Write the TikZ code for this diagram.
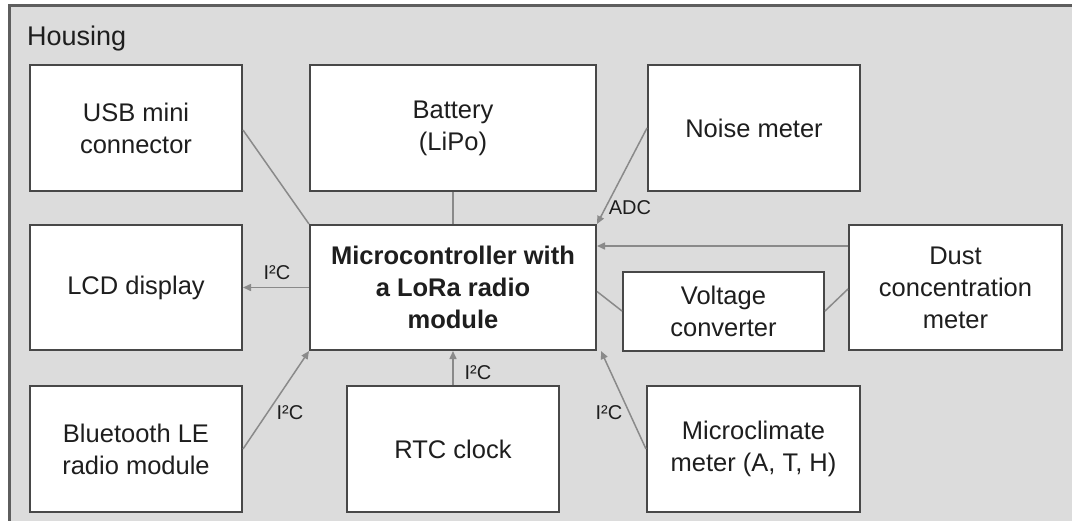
\documentclass[tikz,border=0pt]{standalone}
\usepackage{fontspec}
\setmainfont{Liberation Sans}
\usetikzlibrary{arrows.meta}
\definecolor{housebg}{HTML}{DCDCDC}
\definecolor{houseline}{HTML}{5E5E5E}
\definecolor{boxline}{HTML}{484848}
\definecolor{conn}{HTML}{8A8A8A}
\definecolor{txt}{HTML}{1E1E1E}
\tikzset{
  blockbox/.style={draw=boxline, line width=2pt, fill=white, align=center, text=txt,
    font=\fontsize{25.5}{32}\selectfont, inner sep=0pt},
  link/.style={draw=conn, line width=1.5pt},
  arr/.style={link, -{Triangle[length=8pt,width=7pt]}},
  lbl/.style={text=txt, font=\fontsize{20}{24}\selectfont, inner sep=0pt},
}
\begin{document}
\begin{tikzpicture}[x=1pt, y=-1pt]
\useasboundingbox (0,0) rectangle (1072,520);
\fill[white] (0,0) rectangle (1072,520);
\begin{scope}
\clip (0,0) rectangle (1072,520);
\draw[houseline, fill=housebg, line width=3pt] (9.5,5.5) rectangle (1090,540);
\end{scope}
\node[anchor=base west, text=txt, font=\fontsize{27}{32}\selectfont, inner sep=0pt] (house) at (27,45) {Housing};

\node[blockbox, minimum width=212pt, minimum height=126pt] (usb) at (136,128) {USB mini\\connector};
\node[blockbox, minimum width=286pt, minimum height=126pt] (bat) at (453,128) {Battery\\(LiPo)};
\node[blockbox, minimum width=212pt, minimum height=126pt] (noise) at (754,128) {Noise meter};
\node[blockbox, minimum width=212pt, minimum height=125pt] (lcd) at (136,287.5) {LCD display};
\node[blockbox, minimum width=286pt, minimum height=125pt, font=\fontsize{25.5}{32}\selectfont\bfseries] (mcu) at (453,287.5) {Microcontroller with\\a LoRa radio\\module};
\node[blockbox, minimum width=201pt, minimum height=79pt] (volt) at (723.5,311.5) {Voltage\\converter};
\node[blockbox, minimum width=213pt, minimum height=125pt] (dust) at (955.5,287.5) {Dust\\concentration\\meter};
\node[blockbox, minimum width=212pt, minimum height=126pt] (bt) at (136,449) {Bluetooth LE\\radio module};
\node[blockbox, minimum width=212pt, minimum height=126pt] (rtc) at (453,449) {RTC clock};
\node[blockbox, minimum width=213pt, minimum height=126pt] (micro) at (753.5,449) {Microclimate\\meter (A, T, H)};

% connectors
\draw[link] ([yshift=-2pt]usb.east) -- (mcu.north west);
\draw[link] (bat.south) -- (mcu.north);
\draw[arr] (noise.west) -- (mcu.north east);
\draw[arr] ([yshift=41.5pt]dust.west) -- ([yshift=41.5pt]mcu.east);
\draw[link] ([yshift=-4pt]mcu.east) -- ([yshift=0.5pt]volt.west);
\draw[link] ([yshift=0.5pt]volt.east) -- ([yshift=-1.5pt]dust.west);
\draw[arr] (mcu.west) -- (lcd.east);
\draw[arr] (bt.east) -- (mcu.south west);
\draw[arr] (rtc.north) -- (mcu.south);
\draw[arr] (micro.west) -- ([xshift=4pt]mcu.south east);

% labels
\node[lbl] (ladc) at (630,208) {ADC};
\node[lbl] (llcd) at (277,273) {I²C};
\node[lbl] (lbt) at (290,413) {I²C};
\node[lbl] (lrtc) at (478,373) {I²C};
\node[lbl] (lmic) at (609,413) {I²C};
\end{tikzpicture}
\end{document}
